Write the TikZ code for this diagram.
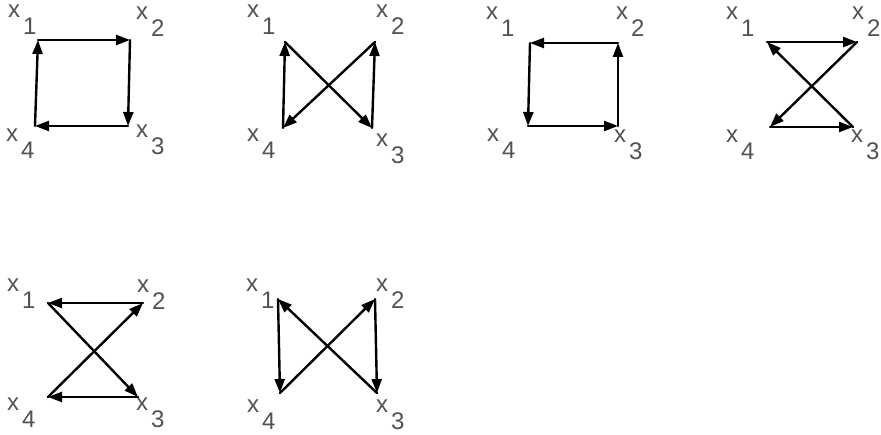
\documentclass[tikz,border=0pt]{standalone}
\usepackage{fontspec}
\setmainfont{Liberation Sans}
\usepackage{tikz}
\usetikzlibrary{arrows.meta}

\newcommand{\xsub}[1]{{\fontsize{24}{25}\selectfont x}\kern3pt\raisebox{-17pt}{\fontsize{24}{25}\selectfont #1}}

\begin{document}
\begin{tikzpicture}[
  x=1pt, y=-1pt,
  arr/.style={-{Triangle[length=14pt, width=10pt]}, line width=2.4pt, line cap=round},
  lbl/.style={anchor=base west, inner sep=0pt, text=black!68}
]
  \useasboundingbox (0,0) rectangle (881,435);

  % Graf 1: x1 -> x2 -> x3 -> x4 -> x1
  \coordinate (a1) at (38,40);
  \coordinate (a2) at (130,40);
  \coordinate (a3) at (128,126);
  \coordinate (a4) at (35,126);
  \node[lbl] (la1) at (8,18) {\xsub{1}};
  \node[lbl] (la2) at (136,20) {\xsub{2}};
  \node[lbl] (la3) at (136,138) {\xsub{3}};
  \node[lbl] (la4) at (6,142) {\xsub{4}};
  \draw[arr] (a1) -- (a2);
  \draw[arr] (a2) -- (a3);
  \draw[arr] (a3) -- (a4);
  \draw[arr] (a4) -- (a1);

  % Graf 2: x4 -> x1 -> x3 -> x2 -> x4
  \coordinate (b1) at (285,42);
  \coordinate (b2) at (375,42);
  \coordinate (b3) at (372,128);
  \coordinate (b4) at (283,128);
  \node[lbl] (lb1) at (247,18) {\xsub{1}};
  \node[lbl] (lb2) at (376,18) {\xsub{2}};
  \node[lbl] (lb3) at (376,147) {\xsub{3}};
  \node[lbl] (lb4) at (247,142) {\xsub{4}};
  \draw[arr] (b4) -- (b1);
  \draw[arr] (b1) -- (b3);
  \draw[arr] (b3) -- (b2);
  \draw[arr] (b2) -- (b4);

  % Graf 3: x2 -> x1 -> x4 -> x3 -> x2
  \coordinate (c1) at (530,43);
  \coordinate (c2) at (618,43);
  \coordinate (c3) at (618,126);
  \coordinate (c4) at (528,126);
  \node[lbl] (lc1) at (486,20) {\xsub{1}};
  \node[lbl] (lc2) at (616,20) {\xsub{2}};
  \node[lbl] (lc3) at (614,143) {\xsub{3}};
  \node[lbl] (lc4) at (487,142) {\xsub{4}};
  \draw[arr] (c2) -- (c1);
  \draw[arr] (c1) -- (c4);
  \draw[arr] (c4) -- (c3);
  \draw[arr] (c3) -- (c2);

  % Graf 4: x1 -> x2 -> x4 -> x3 -> x1
  \coordinate (d1) at (767,42);
  \coordinate (d2) at (857,42);
  \coordinate (d3) at (853,127);
  \coordinate (d4) at (770,127);
  \node[lbl] (ld1) at (726,20) {\xsub{1}};
  \node[lbl] (ld2) at (852,20) {\xsub{2}};
  \node[lbl] (ld3) at (851,143) {\xsub{3}};
  \node[lbl] (ld4) at (726,143) {\xsub{4}};
  \draw[arr] (d1) -- (d2);
  \draw[arr] (d2) -- (d4);
  \draw[arr] (d4) -- (d3);
  \draw[arr] (d3) -- (d1);

  % Graf 5: x2 -> x1 -> x3 -> x4 -> x2
  \coordinate (e1) at (48,303);
  \coordinate (e2) at (143,303);
  \coordinate (e3) at (138,397);
  \coordinate (e4) at (48,397);
  \node[lbl] (le1) at (7,292) {\xsub{1}};
  \node[lbl] (le2) at (137,293) {\xsub{2}};
  \node[lbl] (le3) at (136,411) {\xsub{3}};
  \node[lbl] (le4) at (7,411) {\xsub{4}};
  \draw[arr] (e2) -- (e1);
  \draw[arr] (e1) -- (e3);
  \draw[arr] (e3) -- (e4);
  \draw[arr] (e4) -- (e2);

  % Graf 6: x1 -> x4 -> x2 -> x3 -> x1
  \coordinate (f1) at (278,299);
  \coordinate (f2) at (375,299);
  \coordinate (f3) at (377,393);
  \coordinate (f4) at (280,393);
  \node[lbl] (lf1) at (246,292) {\xsub{1}};
  \node[lbl] (lf2) at (376,292) {\xsub{2}};
  \node[lbl] (lf3) at (376,413) {\xsub{3}};
  \node[lbl] (lf4) at (247,413) {\xsub{4}};
  \draw[arr] (f1) -- (f4);
  \draw[arr] (f4) -- (f2);
  \draw[arr] (f2) -- (f3);
  \draw[arr] (f3) -- (f1);
\end{tikzpicture}
\end{document}
